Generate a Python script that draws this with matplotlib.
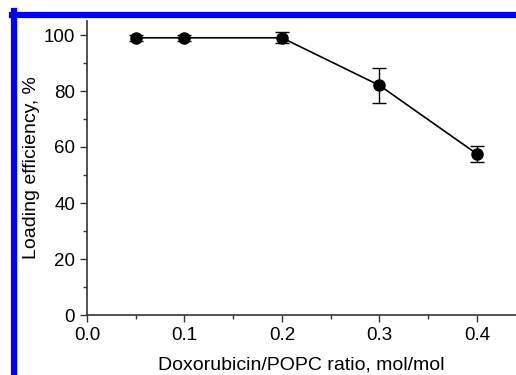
import matplotlib
matplotlib.use('Agg')
import matplotlib.pyplot as plt
from matplotlib.lines import Line2D
from matplotlib.ticker import MultipleLocator

# Loading efficiency vs drug/lipid ratio
ratio = [0.05, 0.1, 0.2, 0.3, 0.4]
efficiency = [99.0, 99.0, 99.0, 82.0, 57.5]
error = [1.0, 1.0, 2.0, 6.3, 2.7]

plt.rcParams['font.family'] = ['Liberation Sans', 'DejaVu Sans']

fig = plt.figure(figsize=(5.16, 3.75), dpi=100)
ax = fig.add_axes([0.1686, 0.16, 0.8314, 0.784])

ax.errorbar(ratio, efficiency, yerr=error, fmt='o-', color='black',
            markersize=8, linewidth=1.2, elinewidth=1, capsize=5, capthick=1)

ax.set_xlim(0, 0.44)
ax.set_ylim(0, 105)
ax.xaxis.set_major_locator(MultipleLocator(0.1))
ax.xaxis.set_minor_locator(MultipleLocator(0.05))
ax.yaxis.set_major_locator(MultipleLocator(20))
ax.yaxis.set_minor_locator(MultipleLocator(10))
ax.xaxis.set_major_formatter(matplotlib.ticker.FormatStrFormatter('%.1f'))

for side in ['top', 'right']:
    ax.spines[side].set_visible(False)
for side in ['left', 'bottom']:
    ax.spines[side].set_color('#333333')
    ax.spines[side].set_linewidth(1.2)

ax.tick_params(which='major', direction='out', length=5, width=1, labelsize=13.5, colors='#333333', labelcolor='black')
ax.tick_params(which='minor', direction='out', length=3, width=1, colors='#333333')

ax.set_xlabel('Doxorubicin/POPC ratio, mol/mol', fontsize=14, labelpad=9)
ax.set_ylabel('Loading efficiency, %', fontsize=14, labelpad=3)

# blue frame on left and top
fig.add_artist(Line2D([0.0281, 0.0281], [0, 0.9713], color='#0000ff', linewidth=4.5, transform=fig.transFigure))
fig.add_artist(Line2D([0.0233, 1.0], [0.9613, 0.9613], color='#0000ff', linewidth=4.5, transform=fig.transFigure))

plt.savefig('out.png', dpi=100)
